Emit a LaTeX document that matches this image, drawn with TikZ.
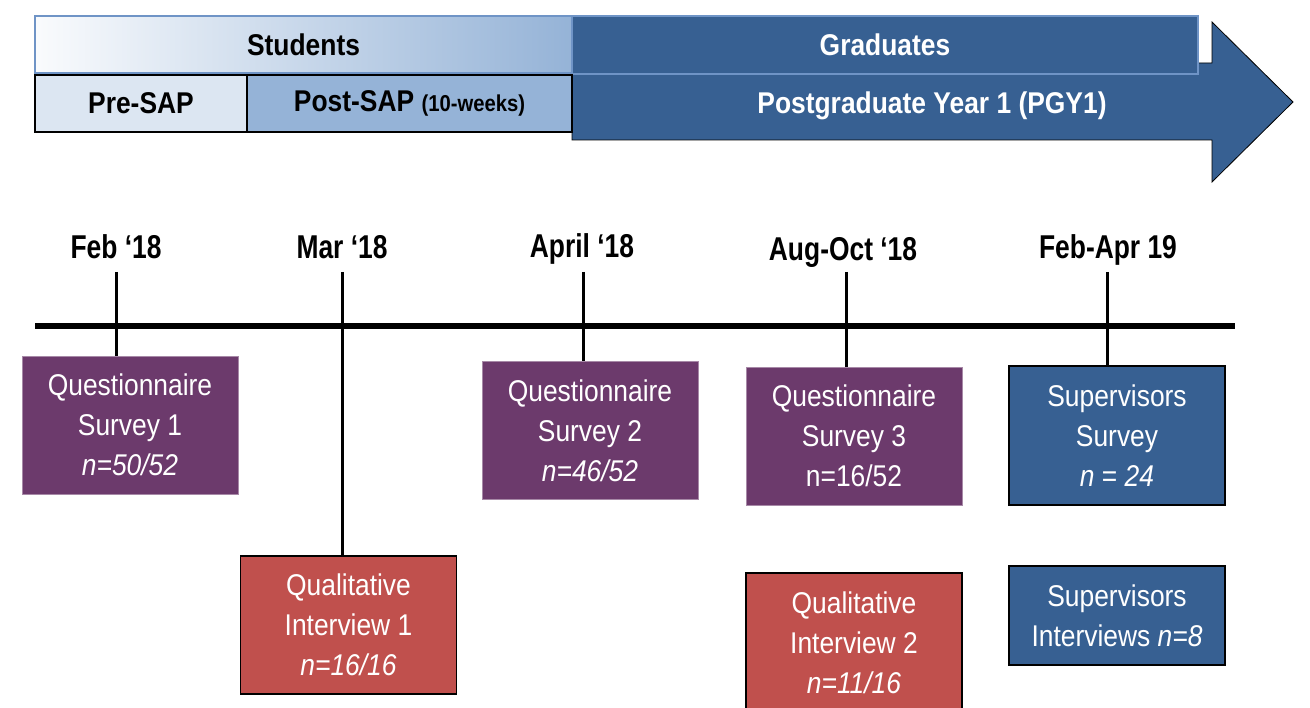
\documentclass[tikz,border=0pt]{standalone}
\usepackage{fontspec}
\setmainfont{Liberation Sans}[FakeStretch=0.88]
\newfontfamily\datefont{Liberation Sans}[FakeStretch=0.80]
\definecolor{purp}{HTML}{6C3A6C}
\definecolor{qred}{HTML}{C0504D}
\definecolor{dblue}{HTML}{376092}
\definecolor{lblue}{HTML}{95B3D7}
\definecolor{plblue}{HTML}{DCE6F2}
\definecolor{edgeblue}{HTML}{6F94C6}
\begin{document}
\begin{tikzpicture}[x=1pt,y=-1pt,
  box/.style={minimum width=216pt, minimum height=138pt, inner sep=0pt, text=white, align=center,
    font=\fontsize{30}{40}\selectfont},
  qsbox/.style={box, fill=purp, draw=purp!60!white, line width=0.8pt},
  qibox/.style={box, fill=qred, draw=black, line width=1.5pt},
  supbox/.style={box, fill=dblue, draw=black, line width=1.5pt},
  datelbl/.style={inner sep=0pt, font=\datefont\fontsize{33}{36}\selectfont\bfseries},
  tick/.style={line width=3pt},
  bar/.style={inner sep=0pt, minimum height=57pt, font=\fontsize{30}{32}\selectfont\bfseries}
]
\useasboundingbox[fill=white] (0,0) rectangle (1310,708);

% big arrow
\draw[fill=dblue, draw=black, line width=0.8pt]
  (572,63) -- (1212,63) -- (1212,22) -- (1293,102) -- (1212,182) -- (1212,140) -- (572,140) -- cycle;
\node[bar, minimum width=626pt, minimum height=58pt, fill=dblue, draw=edgeblue, line width=1.5pt, text=white]
  (grad) at (885,45) {Graduates};
\node[inner sep=0pt, font=\fontsize{30}{32}\selectfont\bfseries, text=white]
  (pgy) at (932,106) {Postgraduate Year 1 (PGY1)};

% students bars
\node[bar, minimum width=537pt, left color=white!95!lblue, right color=lblue, draw=edgeblue, line width=1.5pt]
  (stud) at (303.5,44.5) {Students};
\node[bar, minimum width=212pt, fill=plblue, draw=black, line width=1.5pt]
  (pre) at (141,103.5) {Pre-SAP};
\node[bar, minimum width=325pt, fill=lblue, draw=black, line width=1.5pt]
  (post) at (409.5,103.5) {Post-SAP {\fontsize{23}{24}\selectfont (10-weeks)}};

% date labels
\node[datelbl] (d1) at (116,247) {Feb ‘18};
\node[datelbl] (d2) at (342,247) {Mar ‘18};
\node[datelbl] (d3) at (582,249) {April ‘18};
\node[datelbl] (d4) at (843,252) {Aug-Oct ‘18};
\node[datelbl] (d5) at (1108,250) {Feb-Apr 19};

% boxes
\node[qsbox] (qs1) at (130,425) {Questionnaire\\Survey 1\\\textit{n=50/52}};
\node[qibox] (qi1) at (348.5,625) {Qualitative\\Interview 1\\\textit{n=16/16}};
\node[qsbox] (qs2) at (590,430.5) {Questionnaire\\Survey 2\\\textit{n=46/52}};
\node[qsbox] (qs3) at (854,436) {Questionnaire\\Survey 3\\n=16/52};
\node[qibox, minimum height=139pt] (qi2) at (854,642.5) {Qualitative\\Interview 2\\\textit{n=11/16}};
\node[supbox, minimum height=139pt] (ss) at (1117,435.5) {Supervisors\\Survey\\\textit{n} = \textit{24}};
\node[supbox, minimum height=99pt] (si) at (1117,615.5) {Supervisors\\Interviews \textit{n=8}};

% ticks
\coordinate (t1) at (116,272);
\coordinate (t2) at (342,272);
\coordinate (t3) at (583,272);
\coordinate (t4) at (846,272);
\coordinate (t5) at (1107,272);
\draw[tick] (t1) -- (t1 |- qs1.north);
\draw[tick] (t2) -- (t2 |- qi1.north);
\draw[tick] (t3) -- (t3 |- qs2.north);
\draw[tick] (t4) -- (t4 |- qs3.north);
\draw[tick] (t5) -- (t5 |- ss.north);

% timeline
\coordinate (tlA) at (35,326);
\coordinate (tlB) at (1235,326);
\draw[line width=6pt] (tlA) -- (tlB);
\end{tikzpicture}
\end{document}
